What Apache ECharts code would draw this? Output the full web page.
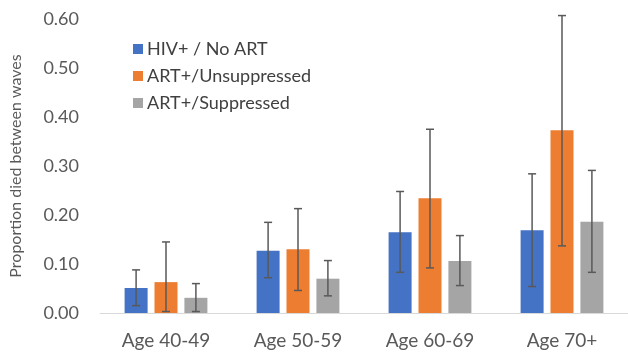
<!DOCTYPE html>
<html><head><meta charset="utf-8">
<script src="https://cdn.jsdelivr.net/npm/echarts@6/dist/echarts.min.js"></script>
<style>html,body{margin:0;padding:0;background:#fff}#c{width:628px;height:352px}</style>
</head><body><div id="c"></div>
<script>
const categories = ['Age 40-49', 'Age 50-59', 'Age 60-69', 'Age 70+'];
const seriesNames = ['HIV+ / No ART', 'ART+/Unsuppressed', 'ART+/Suppressed'];
const noArt = [0.051, 0.127, 0.165, 0.169];
const noArtLow = [0.015, 0.072, 0.083, 0.054];
const noArtHigh = [0.088, 0.185, 0.248, 0.284];
const unsup = [0.063, 0.130, 0.234, 0.373];
const unsupLow = [0.003, 0.046, 0.092, 0.137];
const unsupHigh = [0.145, 0.213, 0.375, 0.607];
const sup = [0.031, 0.070, 0.106, 0.186];
const supLow = [0.003, 0.035, 0.056, 0.083];
const supHigh = [0.060, 0.107, 0.158, 0.291];
const yTicks = ['0.00', '0.10', '0.20', '0.30', '0.40', '0.50', '0.60'];
const colors = ['#4472C4', '#ED7D31', '#A5A5A5'];

const values = [noArt, unsup, sup];
const lows = [noArtLow, unsupLow, supLow];
const highs = [noArtHigh, unsupHigh, supHigh];
const BAR_W = 23, GAP = 0.3;
const font = 'Lato, "Liberation Sans", sans-serif';

const chart = echarts.init(document.getElementById('c'));
const series = [];
values.forEach((v, i) => {
  series.push({
    name: seriesNames[i], type: 'bar', data: v, barWidth: BAR_W, barGap: (GAP * 100) + '%',
    itemStyle: { color: colors[i] }
  });
});
values.forEach((v, i) => {
  series.push({
    type: 'custom', silent: true, z: 10,
    data: categories.map((c, k) => [k, lows[i][k], highs[i][k]]),
    renderItem: function (params, api) {
      const k = api.value(0);
      const lo = api.coord([k, api.value(1)]);
      const hi = api.coord([k, api.value(2)]);
      const x = lo[0] + (i - 1) * BAR_W * (1 + GAP);
      const cap = 4;
      const st = { stroke: '#595959', lineWidth: 1.5 };
      return { type: 'group', children: [
        { type: 'line', shape: { x1: x, y1: hi[1], x2: x, y2: lo[1] }, style: st },
        { type: 'line', shape: { x1: x - cap, y1: hi[1], x2: x + cap, y2: hi[1] }, style: st },
        { type: 'line', shape: { x1: x - cap, y1: lo[1], x2: x + cap, y2: lo[1] }, style: st }
      ]};
    }
  });
});

chart.setOption({
  animation: false,
  color: colors,
  grid: { left: 99, top: 19, width: 532, bottom: 39, containLabel: false },
  legend: {
    orient: 'vertical', left: 128, top: 34, itemWidth: 10, itemHeight: 10, itemGap: 7,
    icon: 'rect', data: seriesNames,
    textStyle: { fontFamily: font, fontSize: 18, color: '#404040', lineHeight: 20, padding: [0, 0, 0, -1] }
  },
  xAxis: {
    type: 'category', data: categories,
    axisLine: { lineStyle: { color: '#D9D9D9', width: 1 } },
    axisTick: { show: false },
    axisLabel: { fontFamily: font, fontSize: 19, color: '#595959', margin: 18 }
  },
  yAxis: {
    type: 'value', min: 0, max: 0.6, interval: 0.1,
    name: 'Proportion died between waves', nameLocation: 'middle', nameGap: 76,
    nameTextStyle: { fontFamily: font, fontSize: 16, color: '#595959' },
    axisLine: { show: false }, axisTick: { show: false }, splitLine: { show: false },
    axisLabel: { fontFamily: font, fontSize: 18, color: '#595959', margin: 21,
      formatter: (val) => yTicks[Math.round(val * 10)] }
  },
  series: series
});
</script></body></html>
